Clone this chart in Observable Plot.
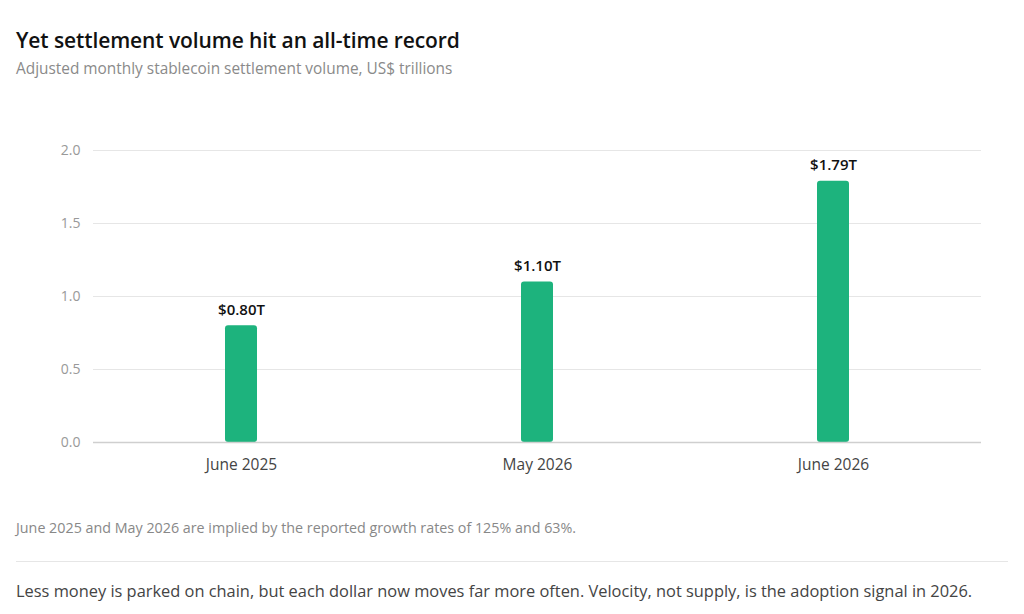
<!DOCTYPE html>
<html>
<head>
<meta charset="utf-8">
<script src="https://cdn.jsdelivr.net/npm/d3@7"></script>
<script src="https://cdn.jsdelivr.net/npm/@observablehq/plot@0.6"></script>
<style>
  html, body { margin: 0; padding: 0; background: #fff; }
  body { width: 1024px; height: 614px; position: relative; font-family: "Open Sans", "Noto Sans", sans-serif; overflow: hidden; }
  .title { position: absolute; left: 16px; top: 26px; font-size: 21px; font-weight: 600; color: #111; letter-spacing: -0.1px; white-space: nowrap; }
  .subtitle { position: absolute; left: 16px; top: 58px; font-size: 15.4px; color: #8a8a8a; white-space: nowrap; }
  #chart { position: absolute; left: 0; top: 100px; }
  .note { position: absolute; left: 16px; top: 518px; font-size: 14.3px; color: #888; white-space: nowrap; }
  .hr { position: absolute; left: 16px; width: 992px; top: 561px; border-top: 1px solid #e6e6e6; }
  .takeaway { position: absolute; left: 16px; top: 579px; font-size: 16.4px; color: #444; white-space: nowrap; }
</style>
</head>
<body>
<div class="title">Yet settlement volume hit an all-time record</div>
<div class="subtitle">Adjusted monthly stablecoin settlement volume, US$ trillions</div>
<div id="chart"></div>
<div class="note">June 2025 and May 2026 are implied by the reported growth rates of 125% and 63%.</div>
<div class="hr"></div>
<div class="takeaway">Less money is parked on chain, but each dollar now moves far more often. Velocity, not supply, is the adoption signal in 2026.</div>
<script>
const periods = ["June 2025", "May 2026", "June 2026"];
const volumes = [0.80, 1.10, 1.79];
const valueLabels = ["$0.80T", "$1.10T", "$1.79T"];
const yTicks = [0, 0.5, 1.0, 1.5, 2.0];

const data = periods.map((p, i) => ({period: p, value: volumes[i], label: valueLabels[i]}));

const chart = Plot.plot({
  width: 1024,
  height: 390,
  marginTop: 50,
  marginBottom: 48,
  marginLeft: 93,
  marginRight: 43,
  style: {fontFamily: "'Open Sans', 'Noto Sans', sans-serif", background: "transparent"},
  x: {domain: periods, paddingInner: 0.892, paddingOuter: 0.446, label: null},
  y: {domain: [0, 2], ticks: yTicks, label: null},
  marks: [
    Plot.gridY(yTicks, {stroke: "#e6e6e6", strokeOpacity: 1, strokeWidth: 1}),
    Plot.axisY(yTicks, {tickSize: 0, tickPadding: 13, tickFormat: d => d.toFixed(1), fontSize: 14, fill: "#999", label: null}),
    Plot.axisX({tickSize: 0, tickPadding: 16, fontSize: 15.5, fill: "#444", label: null}),
    Plot.barY(data, {x: "period", y: "value", fill: "#1db37d", rx: 3}),
    Plot.ruleY([0], {stroke: "#cfcfcf", strokeWidth: 1.5}),
    Plot.text(data, {x: "period", y: "value", text: "label", dy: -16, fontSize: 15, fontWeight: 600, fill: "#111"})
  ]
});
document.getElementById("chart").appendChild(chart);
</script>
</body>
</html>
